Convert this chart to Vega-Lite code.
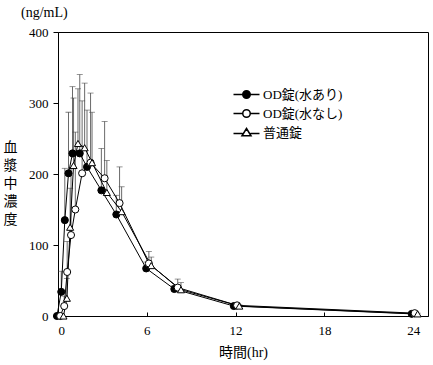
{
  "$schema": "https://vega.github.io/schema/vega-lite/v6.json",
  "width": 370,
  "height": 284,
  "autosize": {"type": "none"},
  "padding": {"left": 58, "top": 32, "right": 5, "bottom": 49},
  "background": "white",
  "config": {
    "font": "Liberation Serif, Noto Sans CJK JP",
    "view": {"stroke": "black", "strokeWidth": 1},
    "axis": {"grid": false, "domainColor": "black", "tickColor": "black", "labelColor": "black", "titleColor": "black", "labelFontSize": 13, "titleFontWeight": "normal", "labelFont": "Liberation Serif", "titleFont": "Liberation Serif, Noto Sans CJK JP"}
  },
  "title": {"text": "(ng/mL)", "anchor": "start", "frame": "group", "dx": -37, "offset": 6, "fontSize": 14, "fontWeight": "normal", "font": "Liberation Serif", "color": "black"},
  "data": {"values": [
    {"g": "OD錠(水あり)", "t": 0, "x": -0.07, "y": 0, "top": null},
    {"g": "OD錠(水あり)", "t": 0.25, "x": 0.22, "y": 34, "top": 63},
    {"g": "OD錠(水あり)", "t": 0.5, "x": 0.46, "y": 135, "top": 208},
    {"g": "OD錠(水あり)", "t": 0.75, "x": 0.71, "y": 201, "top": 287},
    {"g": "OD錠(水あり)", "t": 1, "x": 0.98, "y": 229, "top": 323},
    {"g": "OD錠(水あり)", "t": 1.5, "x": 1.47, "y": 229, "top": 340},
    {"g": "OD錠(水あり)", "t": 2, "x": 1.96, "y": 210, "top": 290},
    {"g": "OD錠(水あり)", "t": 3, "x": 2.93, "y": 177, "top": 236},
    {"g": "OD錠(水あり)", "t": 4, "x": 3.94, "y": 143, "top": 170},
    {"g": "OD錠(水あり)", "t": 6, "x": 5.96, "y": 67, "top": 76},
    {"g": "OD錠(水あり)", "t": 8, "x": 7.86, "y": 38, "top": 43},
    {"g": "OD錠(水あり)", "t": 12, "x": 11.88, "y": 14, "top": 16},
    {"g": "OD錠(水あり)", "t": 24, "x": 23.9, "y": 3, "top": 4},
    {"g": "OD錠(水なし)", "t": 0, "x": 0.15, "y": 0, "top": null},
    {"g": "OD錠(水なし)", "t": 0.25, "x": 0.42, "y": 14, "top": 28},
    {"g": "OD錠(水なし)", "t": 0.5, "x": 0.62, "y": 62, "top": 105},
    {"g": "OD錠(水なし)", "t": 0.75, "x": 0.88, "y": 114, "top": 209},
    {"g": "OD錠(水なし)", "t": 1, "x": 1.17, "y": 150, "top": 259},
    {"g": "OD錠(水なし)", "t": 1.5, "x": 1.63, "y": 201, "top": 303},
    {"g": "OD錠(水なし)", "t": 2, "x": 2.2, "y": 216, "top": 314},
    {"g": "OD錠(水なし)", "t": 3, "x": 3.15, "y": 194, "top": 274},
    {"g": "OD錠(水なし)", "t": 4, "x": 4.16, "y": 159, "top": 210},
    {"g": "OD錠(水なし)", "t": 6, "x": 6.14, "y": 74, "top": 91},
    {"g": "OD錠(水なし)", "t": 8, "x": 8.09, "y": 40, "top": 52},
    {"g": "OD錠(水なし)", "t": 12, "x": 12.1, "y": 15, "top": 18},
    {"g": "OD錠(水なし)", "t": 24, "x": 24.1, "y": 4, "top": 5},
    {"g": "普通錠", "t": 0, "x": 0.37, "y": 0, "top": null},
    {"g": "普通錠", "t": 0.25, "x": 0.6, "y": 25, "top": 53},
    {"g": "普通錠", "t": 0.5, "x": 0.82, "y": 125, "top": 180},
    {"g": "普通錠", "t": 0.75, "x": 1.05, "y": 212, "top": 307},
    {"g": "普通錠", "t": 1, "x": 1.35, "y": 243, "top": 320},
    {"g": "普通錠", "t": 1.5, "x": 1.8, "y": 237, "top": 328},
    {"g": "普通錠", "t": 2, "x": 2.3, "y": 216, "top": 287},
    {"g": "普通錠", "t": 3, "x": 3.3, "y": 174, "top": 219},
    {"g": "普通錠", "t": 4, "x": 4.3, "y": 147, "top": 182},
    {"g": "普通錠", "t": 6, "x": 6.3, "y": 71, "top": 83},
    {"g": "普通錠", "t": 8, "x": 8.31, "y": 37, "top": 47},
    {"g": "普通錠", "t": 12, "x": 12.25, "y": 14, "top": 16},
    {"g": "普通錠", "t": 24, "x": 24.3, "y": 3, "top": 4}
  ]},
  "layer": [
    {
      "transform": [{"filter": "isValid(datum.top)"}],
      "mark": {"type": "rule", "color": "#444444", "strokeWidth": 0.8},
      "encoding": {
        "x": {"field": "x", "type": "quantitative", "scale": {"domain": [0, 25], "nice": false, "zero": false},
          "axis": {"values": [0, 6, 12, 18, 24], "tickSize": -4, "labelPadding": 12, "title": "時間(hr)", "titleFontSize": 14, "titleX": 185, "titleY": 36, "titleBaseline": "middle", "titleAnchor": "middle"}},
        "y": {"field": "y", "type": "quantitative", "scale": {"domain": [0, 400], "nice": false},
          "axis": {"values": [0, 100, 200, 300, 400], "tickSize": 5, "labelPadding": 5, "title": ["血", "漿", "中", "濃", "度"], "titleAngle": 0, "titleFontSize": 14, "titleLineHeight": 18, "titleX": -48, "titleY": 115, "titleAlign": "center", "titleBaseline": "middle"}},
        "y2": {"field": "top"}
      }
    },
    {
      "transform": [{"filter": "isValid(datum.top)"}],
      "mark": {"type": "tick", "orient": "horizontal", "size": 6, "thickness": 0.8, "color": "#444444"},
      "encoding": {
        "x": {"field": "x", "type": "quantitative"},
        "y": {"field": "top", "type": "quantitative"}
      }
    },
    {
      "mark": {"type": "line", "color": "black", "strokeWidth": 1},
      "encoding": {
        "x": {"field": "x", "type": "quantitative"},
        "y": {"field": "y", "type": "quantitative"},
        "detail": {"field": "g"}
      }
    },
    {
      "transform": [{"filter": "datum.g === 'OD錠(水あり)'"}],
      "mark": {"type": "point", "shape": "circle", "filled": true, "fill": "black", "stroke": "black", "strokeWidth": 1, "size": 50, "opacity": 1},
      "encoding": {
        "x": {"field": "x", "type": "quantitative"},
        "y": {"field": "y", "type": "quantitative"}
      }
    },
    {
      "transform": [{"filter": "datum.g === 'OD錠(水なし)'"}],
      "mark": {"type": "point", "shape": "circle", "filled": true, "fill": "white", "stroke": "black", "strokeWidth": 1, "size": 50, "opacity": 1},
      "encoding": {
        "x": {"field": "x", "type": "quantitative"},
        "y": {"field": "y", "type": "quantitative"}
      }
    },
    {
      "transform": [{"filter": "datum.g === '普通錠'"}],
      "mark": {"type": "point", "shape": "triangle-up", "filled": true, "fill": "white", "stroke": "black", "strokeWidth": 1, "size": 50, "opacity": 1},
      "encoding": {
        "x": {"field": "x", "type": "quantitative"},
        "y": {"field": "y", "type": "quantitative"}
      }
    },
    {
      "transform": [{"filter": "false"}],
      "mark": {"type": "point", "filled": true, "stroke": "black", "strokeWidth": 1, "opacity": 1},
      "encoding": {
        "shape": {"field": "g", "type": "nominal",
          "scale": {"domain": ["OD錠(水あり)", "OD錠(水なし)", "普通錠"], "range": ["M-2.6,0H-0.75M0.75,0H2.6M-0.75,0A0.75,0.75,0,1,1,0.75,0A0.75,0.75,0,1,1,-0.75,0Z", "M-2.6,0H-0.75M0.75,0H2.6M-0.75,0A0.75,0.75,0,1,1,0.75,0A0.75,0.75,0,1,1,-0.75,0Z", "M-2.6,0.2H-0.8M0.8,0.2H2.6M0,-0.8L0.9,0.65L-0.9,0.65Z"]},
          "legend": {"title": null, "orient": "none", "legendX": 174, "legendY": 56, "labelFontSize": 13, "labelFont": "Liberation Serif, Noto Sans CJK JP", "labelColor": "black", "symbolSize": 100, "symbolOffset": 8, "labelOffset": 10, "rowPadding": 4,
            "encode": {"symbols": {"update": {"stroke": {"value": "black"}, "strokeWidth": {"value": 1}, "opacity": {"value": 1}}}}}},
        "fill": {"field": "g", "type": "nominal", "scale": {"domain": ["OD錠(水あり)", "OD錠(水なし)", "普通錠"], "range": ["black", "white", "white"]}, "legend": {"title": null}}
      }
    }
  ]
}
